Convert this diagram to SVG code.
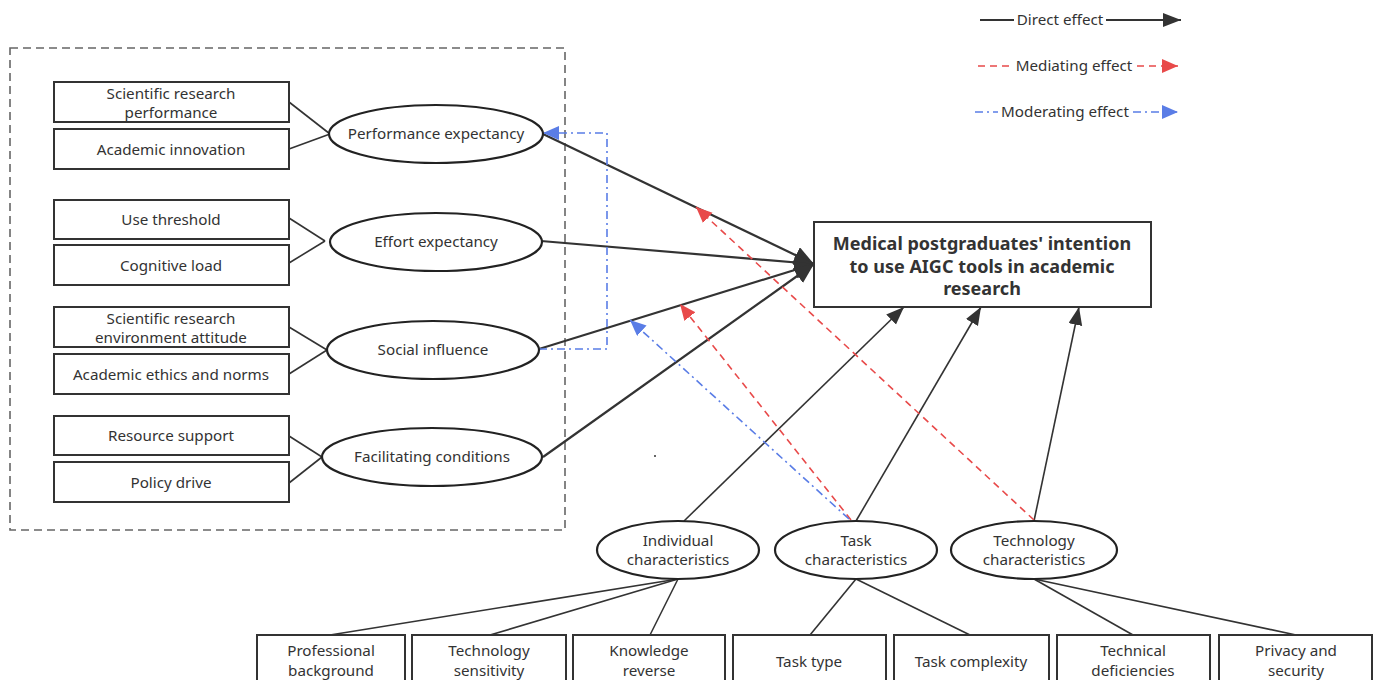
<svg xmlns="http://www.w3.org/2000/svg" width="1378" height="680" viewBox="0 0 1378 680">
<defs>
<style>
.t{font-family:"Noto Sans","Open Sans","DejaVu Sans",sans-serif;font-size:15.2px;fill:#333;text-anchor:middle}
.b{font-family:"Noto Sans","Open Sans","DejaVu Sans",sans-serif;font-size:18px;font-weight:bold;fill:#333;text-anchor:middle}
.box{fill:#fff;stroke:#333;stroke-width:2}
.ell{fill:#fff;stroke:#222;stroke-width:2.2}
.ln{fill:none;stroke:#333;stroke-width:1.6}
.dir{fill:none;stroke:#333;stroke-width:2.2}
.med{fill:none;stroke:#e84a4a;stroke-width:1.6;stroke-dasharray:7 5}
.mod{fill:none;stroke:#5a7de6;stroke-width:1.6;stroke-dasharray:8 4 2 4}
</style>
<marker id="ab" markerUnits="userSpaceOnUse" markerWidth="20" markerHeight="16" refX="18" refY="7" orient="auto"><path d="M0,0 L18,7 L0,14 Z" fill="#333"/></marker>
<marker id="abig" markerUnits="userSpaceOnUse" markerWidth="22" markerHeight="22" refX="20" refY="9" orient="auto"><path d="M0,0 L20,9 L0,18 Z" fill="#333"/></marker>
<marker id="ar" markerUnits="userSpaceOnUse" markerWidth="20" markerHeight="16" refX="16" refY="7" orient="auto"><path d="M0,0 L16,7 L0,14 Z" fill="#e84a4a"/></marker>
<marker id="au" markerUnits="userSpaceOnUse" markerWidth="20" markerHeight="16" refX="16" refY="7" orient="auto"><path d="M0,0 L16,7 L0,14 Z" fill="#5a7de6"/></marker>
</defs>
<rect width="1378" height="680" fill="#fff"/>

<g id="legend">
<line class="dir" style="stroke-width:1.8" x1="980" y1="20" x2="1014" y2="20"/>
<line class="dir" style="stroke-width:1.8" x1="1106" y1="20" x2="1181" y2="20" marker-end="url(#ab)"/>
<text class="t" x="1060" y="25">Direct effect</text>
<line class="med" x1="978" y1="66" x2="1011" y2="66"/>
<line class="med" x1="1137" y1="66" x2="1178" y2="66" marker-end="url(#ar)"/>
<text class="t" x="1074" y="71">Mediating effect</text>
<line class="mod" x1="975" y1="112" x2="998" y2="112"/>
<line class="mod" x1="1133" y1="112" x2="1178" y2="112" marker-end="url(#au)"/>
<text class="t" x="1065" y="117">Moderating effect</text>
</g>

<rect id="container" x="10" y="48" width="555" height="482" fill="none" stroke="#666" stroke-width="1.6" stroke-dasharray="8 5"/>

<g id="connectors">
<line class="ln" x1="289" y1="102" x2="330" y2="134"/>
<line class="ln" x1="289" y1="149" x2="330" y2="134"/>
<line class="ln" x1="289" y1="218" x2="325" y2="241"/>
<line class="ln" x1="289" y1="263" x2="325" y2="241"/>
<line class="ln" x1="289" y1="327" x2="327" y2="350"/>
<line class="ln" x1="289" y1="374" x2="327" y2="350"/>
<line class="ln" x1="289" y1="436" x2="322" y2="457"/>
<line class="ln" x1="289" y1="483" x2="322" y2="457"/>

<line class="dir" x1="543" y1="134" x2="814" y2="264" marker-end="url(#abig)"/>
<line class="dir" x1="541" y1="241" x2="814" y2="264" marker-end="url(#abig)"/>
<line class="dir" x1="539" y1="349" x2="814" y2="264" marker-end="url(#abig)"/>
<line class="dir" x1="543" y1="457" x2="814" y2="264" marker-end="url(#abig)"/>

<line class="ln" x1="684" y1="521" x2="904" y2="307" marker-end="url(#ab)"/>
<line class="ln" x1="856" y1="521" x2="981" y2="307" marker-end="url(#ab)"/>
<line class="ln" x1="1034" y1="521" x2="1079" y2="307" marker-end="url(#ab)"/>

<line class="med" x1="1034" y1="520" x2="696" y2="207" marker-end="url(#ar)"/>
<line class="med" x1="851" y1="520" x2="680" y2="304" marker-end="url(#ar)"/>
<line class="mod" x1="849" y1="519" x2="630" y2="320" marker-end="url(#au)"/>
<polyline class="mod" points="539,349 607,349 607,133 543,133" marker-end="url(#au)"/>

<line class="ln" x1="678" y1="579" x2="330" y2="635"/>
<line class="ln" x1="678" y1="579" x2="490" y2="635"/>
<line class="ln" x1="678" y1="579" x2="650" y2="635"/>
<line class="ln" x1="856" y1="579" x2="810" y2="635"/>
<line class="ln" x1="856" y1="579" x2="970" y2="635"/>
<line class="ln" x1="1034" y1="579" x2="1133" y2="635"/>
<line class="ln" x1="1034" y1="579" x2="1296" y2="635"/>
</g>

<g id="n-srp"><rect class="box" x="54" y="82" width="235" height="40"/><text class="t" x="171" y="99">Scientific research</text><text class="t" x="171" y="118">performance</text></g>
<g id="n-ai"><rect class="box" x="54" y="129" width="235" height="40"/><text class="t" x="171" y="155">Academic innovation</text></g>
<g id="n-ut"><rect class="box" x="54" y="200" width="235" height="39"/><text class="t" x="171" y="225">Use threshold</text></g>
<g id="n-cl"><rect class="box" x="54" y="245" width="235" height="40"/><text class="t" x="171" y="271">Cognitive load</text></g>
<g id="n-srea"><rect class="box" x="54" y="307" width="235" height="40"/><text class="t" x="171" y="324">Scientific research</text><text class="t" x="171" y="343">environment attitude</text></g>
<g id="n-aen"><rect class="box" x="54" y="354" width="235" height="40"/><text class="t" x="171" y="380">Academic ethics and norms</text></g>
<g id="n-rs"><rect class="box" x="54" y="416" width="235" height="39"/><text class="t" x="171" y="441">Resource support</text></g>
<g id="n-pd"><rect class="box" x="54" y="462" width="235" height="40"/><text class="t" x="171" y="488">Policy drive</text></g>

<g id="n-pe"><ellipse class="ell" cx="436" cy="134" rx="107" ry="29"/><text class="t" x="436" y="139">Performance expectancy</text></g>
<g id="n-ee"><ellipse class="ell" cx="436" cy="242" rx="106" ry="29"/><text class="t" x="436" y="247">Effort expectancy</text></g>
<g id="n-si"><ellipse class="ell" cx="433" cy="350" rx="106" ry="29"/><text class="t" x="433" y="355">Social influence</text></g>
<g id="n-fc"><ellipse class="ell" cx="432" cy="457" rx="110" ry="29"/><text class="t" x="432" y="462">Facilitating conditions</text></g>

<g id="n-target"><rect class="box" x="814" y="222" width="337" height="85"/><text class="b" x="982" y="250">Medical postgraduates' intention</text><text class="b" x="982" y="273">to use AIGC tools in academic</text><text class="b" x="982" y="295">research</text></g>

<g id="n-ic"><ellipse class="ell" cx="678" cy="550" rx="81" ry="29"/><text class="t" x="678" y="546">Individual</text><text class="t" x="678" y="565">characteristics</text></g>
<g id="n-tc"><ellipse class="ell" cx="856" cy="550" rx="81" ry="29"/><text class="t" x="856" y="546">Task</text><text class="t" x="856" y="565">characteristics</text></g>
<g id="n-tec"><ellipse class="ell" cx="1034" cy="550" rx="83" ry="29"/><text class="t" x="1034" y="546">Technology</text><text class="t" x="1034" y="565">characteristics</text></g>

<g id="n-pb"><rect class="box" x="257" y="635" width="148" height="56"/><text class="t" x="331" y="656">Professional</text><text class="t" x="331" y="676">background</text></g>
<g id="n-ts"><rect class="box" x="412" y="635" width="154" height="56"/><text class="t" x="489" y="656">Technology</text><text class="t" x="489" y="676">sensitivity</text></g>
<g id="n-kr"><rect class="box" x="573" y="635" width="152" height="56"/><text class="t" x="649" y="656">Knowledge</text><text class="t" x="649" y="676">reverse</text></g>
<g id="n-tt"><rect class="box" x="733" y="635" width="153" height="56"/><text class="t" x="809" y="667">Task type</text></g>
<g id="n-tcx"><rect class="box" x="894" y="635" width="155" height="56"/><text class="t" x="971" y="667">Task complexity</text></g>
<g id="n-td"><rect class="box" x="1057" y="635" width="153" height="56"/><text class="t" x="1133" y="656">Technical</text><text class="t" x="1133" y="676">deficiencies</text></g>
<g id="n-ps"><rect class="box" x="1219" y="635" width="153" height="56"/><text class="t" x="1296" y="656">Privacy and</text><text class="t" x="1296" y="676">security</text></g>

<circle cx="655" cy="456" r="1" fill="#333"/>
</svg>
